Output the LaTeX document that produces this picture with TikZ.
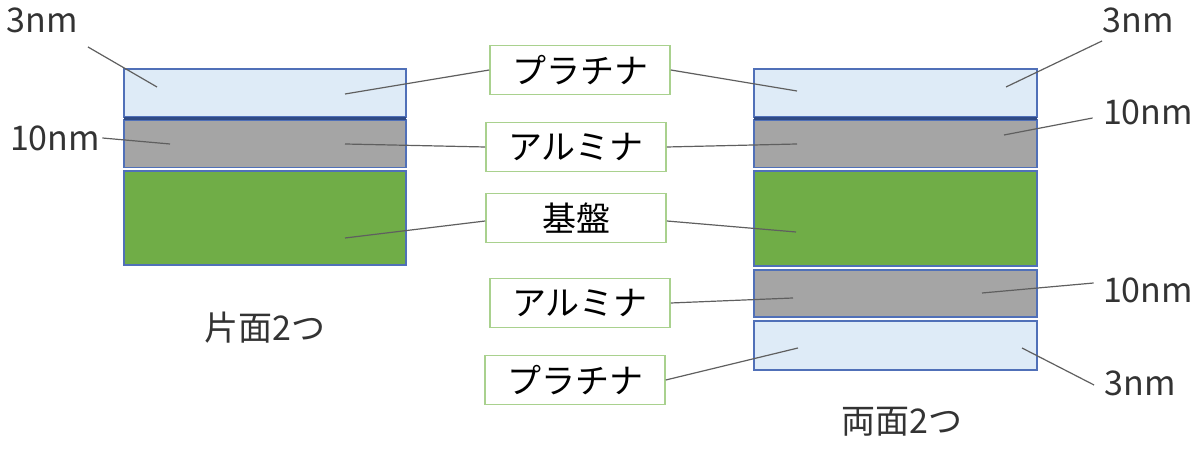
\documentclass[tikz,border=0pt]{standalone}
\usepackage{fontspec}
\setmainfont{Noto Sans CJK JP}
\definecolor{platfill}{HTML}{DEEBF7}
\definecolor{layeredge}{HTML}{5070B8}
\definecolor{bandblue}{HTML}{2F4A85}
\definecolor{aluminafill}{HTML}{A5A5A5}
\definecolor{basefill}{HTML}{70AD47}
\definecolor{labeledge}{HTML}{A9D18E}
\definecolor{leadergray}{HTML}{5F5F5F}
\begin{document}
\begin{tikzpicture}[x=0.5pt,y=-0.5pt,
    platinum/.style={draw=layeredge,fill=platfill,line width=0.7pt},
    alumina/.style={draw=layeredge,fill=aluminafill,line width=0.7pt},
    substrate/.style={draw=layeredge,fill=basefill,line width=0.7pt},
    band/.style={draw=bandblue,line width=1.6pt},
    namebox/.style={draw=labeledge,line width=0.8pt,fill=white,minimum width=90pt,
        minimum height=24.5pt,inner sep=0pt,font=\fontsize{17}{20}\selectfont},
    sizetext/.style={inner sep=0pt,font=\fontsize{17}{20}\selectfont,text=black!80},
    leaderline/.style={draw=leadergray,line width=0.6pt}]

    \useasboundingbox (0,0) rectangle (1200,453);

    % one-sided stack
    \draw[platinum] (124,69) rectangle (406,117);
    \draw[alumina] (124,120) rectangle (406,167.5);
    \draw[substrate] (124,171) rectangle (406,265);
    \draw[band] (124,118.5) -- (406,118.5);

    % two-sided stack
    \draw[platinum] (754,69) rectangle (1037,117);
    \draw[alumina] (754,120) rectangle (1037,167.5);
    \draw[substrate] (754,171) rectangle (1037,266);
    \draw[alumina] (754,270) rectangle (1037,317);
    \draw[platinum] (754,321) rectangle (1037,370);
    \draw[band] (754,118.5) -- (1037,118.5);

    \node[namebox] (pt1) at (580,70) {プラチナ};
    \node[namebox] (al1) at (576,147) {アルミナ};
    \node[namebox] (sub) at (576,218) {基盤};
    \node[namebox] (al2) at (580,303) {アルミナ};
    \node[namebox] (pt2) at (575,380) {プラチナ};

    \node[sizetext] (thinl) at (42,20) {3nm};
    \node[sizetext] (thickl) at (55,138) {10nm};
    \node[sizetext] (thinr) at (1138,20) {3nm};
    \node[sizetext] (thickr) at (1148,112) {10nm};
    \node[sizetext] (thickrb) at (1148,290) {10nm};
    \node[sizetext] (thinrb) at (1140,383) {3nm};

    \node[sizetext] (onesided) at (265,328) {片面2つ};
    \node[sizetext] (twosided) at (902,422) {両面2つ};

    \coordinate (lpt) at (345,94);
    \coordinate (lal) at (345,144);
    \coordinate (lsub) at (345,238);
    \coordinate (lthin) at (157,87);
    \coordinate (lthick) at (170,144);
    \coordinate (rpt) at (797,91);
    \coordinate (ral) at (797,144);
    \coordinate (rsub) at (796,232);
    \coordinate (ral2) at (793,298);
    \coordinate (rpt2) at (798,348);
    \coordinate (rthin) at (1006,87);
    \coordinate (rthick) at (1004,135);
    \coordinate (rthickb) at (982,293);
    \coordinate (rthinb) at (1022,348);

    \draw[leaderline] (pt1.west) -- (lpt);
    \draw[leaderline] (pt1.east) -- (rpt);
    \draw[leaderline] (al1.west) -- (lal);
    \draw[leaderline] (al1.east) -- (ral);
    \draw[leaderline] ([yshift=-1.5pt]sub.west) -- (lsub);
    \draw[leaderline] ([yshift=-1.5pt]sub.east) -- (rsub);
    \draw[leaderline] (al2.east) -- (ral2);
    \draw[leaderline] (pt2.east) -- (rpt2);

    \draw[leaderline] ([shift={(10,14)}]thinl.south east) -- (lthin);
    \draw[leaderline] ([shift={(2,0)}]thickl.east) -- (lthick);
    \draw[leaderline] ([shift={(0,8)}]thinr.south west) -- (rthin);
    \draw[leaderline] ([shift={(-10,6)}]thickr.west) -- (rthick);
    \draw[leaderline] ([shift={(-9,-7)}]thickrb.west) -- (rthickb);
    \draw[leaderline] ([shift={(-10,2)}]thinrb.west) -- (rthinb);

\end{tikzpicture}
\end{document}
